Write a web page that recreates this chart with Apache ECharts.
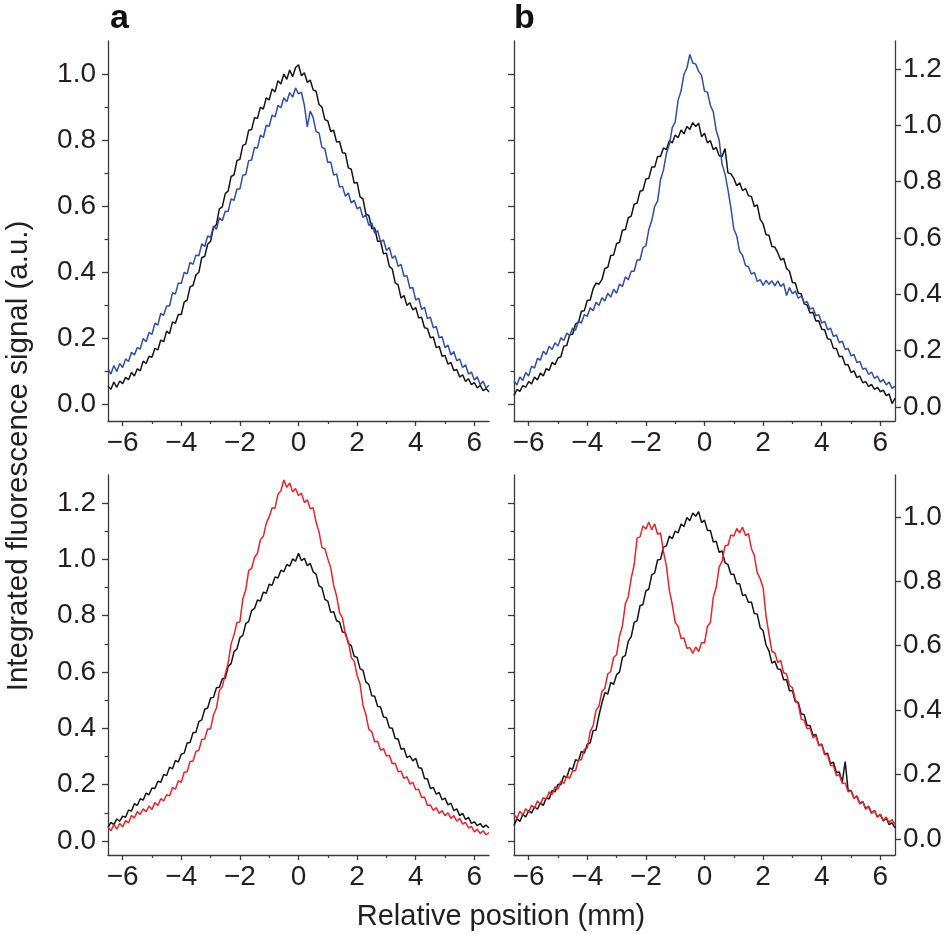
<!DOCTYPE html>
<html>
<head>
<meta charset="utf-8">
<script src="https://cdn.jsdelivr.net/npm/echarts@6.0.0/dist/echarts.min.js"></script>
<style>
  html, body { margin: 0; padding: 0; background: #fff; }
  #main { width: 946px; height: 934px; }
</style>
</head>
<body>
<div id="main"></div>
<script>
// positions along the sample (mm)
const positions = [
  -6.5, -6.4, -6.3, -6.2, -6.1, -6.0, -5.9, -5.8, -5.7, -5.6,
  -5.5, -5.4, -5.3, -5.2, -5.1, -5.0, -4.9, -4.8, -4.7, -4.6,
  -4.5, -4.4, -4.3, -4.2, -4.1, -4.0, -3.9, -3.8, -3.7, -3.6,
  -3.5, -3.4, -3.3, -3.2, -3.1, -3.0, -2.9, -2.8, -2.7, -2.6,
  -2.5, -2.4, -2.3, -2.2, -2.1, -2.0, -1.9, -1.8, -1.7, -1.6,
  -1.5, -1.4, -1.3, -1.2, -1.1, -1.0, -0.9, -0.8, -0.7, -0.6,
  -0.5, -0.4, -0.3, -0.2, -0.1, 0.0, 0.1, 0.2, 0.3, 0.4,
  0.5, 0.6, 0.7, 0.8, 0.9, 1.0, 1.1, 1.2, 1.3, 1.4,
  1.5, 1.6, 1.7, 1.8, 1.9, 2.0, 2.1, 2.2, 2.3, 2.4,
  2.5, 2.6, 2.7, 2.8, 2.9, 3.0, 3.1, 3.2, 3.3, 3.4,
  3.5, 3.6, 3.7, 3.8, 3.9, 4.0, 4.1, 4.2, 4.3, 4.4,
  4.5, 4.6, 4.7, 4.8, 4.9, 5.0, 5.1, 5.2, 5.3, 5.4,
  5.5, 5.6, 5.7, 5.8, 5.9, 6.0, 6.1, 6.2, 6.3, 6.4, 6.5
];

// panel a, top
const aTopBlack = [
  .055, .046, .068, .052, .071, .063, .082, .075, .097, .086,
  .108, .102, .131, .124, .146, .143, .170, .165, .195, .190,
  .222, .214, .250, .246, .272, .272, .310, .316, .356, .360,
  .392, .400, .445, .448, .485, .494, .535, .545, .592, .598,
  .638, .646, .690, .695, .738, .742, .784, .788, .830, .832,
  .868, .866, .900, .894, .928, .922, .955, .946, .980, .970,
  1.000, .984, 1.012, .992, 1.020, 1.028, .995, 1.004, .975, .982,
  .952, .948, .908, .900, .862, .858, .826, .830, .794, .796,
  .762, .760, .716, .712, .670, .672, .628, .622, .576, .572,
  .532, .534, .494, .494, .456, .458, .418, .410, .368, .362,
  .322, .330, .300, .308, .286, .293, .262, .264, .232, .230,
  .202, .204, .172, .176, .146, .148, .122, .127, .103, .106,
  .083, .090, .070, .078, .060, .066, .050, .058, .042, .048, .038
];
const aTopBlue = [
  .108, .092, .118, .100, .124, .112, .138, .130, .158, .150,
  .172, .168, .200, .190, .218, .212, .246, .240, .276, .270,
  .298, .298, .338, .334, .368, .366, .400, .395, .430, .424,
  .452, .450, .486, .478, .510, .506, .540, .530, .565, .556,
  .585, .584, .622, .618, .652, .652, .694, .696, .738, .740,
  .778, .776, .815, .808, .845, .842, .876, .870, .905, .898,
  .928, .916, .944, .930, .958, .940, .945, .905, .840, .888,
  .868, .826, .822, .778, .774, .732, .734, .694, .698, .658,
  .660, .630, .640, .610, .618, .592, .598, .566, .574, .542,
  .550, .518, .526, .492, .498, .466, .475, .442, .450, .418,
  .424, .388, .390, .352, .354, .316, .322, .288, .294, .260,
  .264, .232, .236, .202, .205, .172, .180, .150, .160, .132,
  .138, .112, .120, .092, .098, .074, .084, .060, .070, .050, .058
];

// panel b, top
const bTopBlack = [
  .040, .062, .055, .076, .070, .090, .082, .106, .096, .120,
  .110, .136, .130, .158, .150, .174, .178, .216, .218, .256,
  .258, .295, .300, .340, .342, .378, .380, .420, .440, .436,
  .452, .492, .496, .538, .540, .580, .585, .628, .630, .672,
  .678, .720, .724, .766, .770, .810, .812, .852, .852, .890,
  .890, .920, .914, .946, .938, .966, .956, .984, .970, .996,
  .986, 1.010, .996, 1.008, .960, .972, .938, .946, .914, .922,
  .892, .890, .918, .832, .828, .812, .786, .796, .768, .776,
  .750, .748, .712, .718, .666, .650, .612, .610, .570, .568,
  .548, .522, .528, .492, .482, .442, .440, .404, .402, .366,
  .362, .334, .336, .305, .306, .276, .274, .242, .240, .208,
  .208, .178, .180, .150, .150, .122, .128, .104, .110, .086,
  .090, .072, .080, .062, .070, .054, .060, .040, .046, .012, .030
];
const bTopBlue = [
  .092, .078, .106, .094, .122, .110, .145, .138, .172, .166,
  .198, .186, .216, .204, .228, .216, .246, .236, .262, .254,
  .280, .272, .306, .298, .328, .322, .352, .342, .372, .360,
  .388, .376, .404, .390, .418, .404, .436, .428, .462, .452,
  .482, .482, .522, .522, .566, .572, .630, .662, .712, .732,
  .808, .842, .900, .932, .992, 1.012, 1.090, 1.122, 1.182, 1.204,
  1.252, 1.222, 1.218, 1.192, 1.178, 1.122, 1.118, 1.072, 1.048, .982,
  .948, .862, .828, .772, .708, .632, .608, .552, .538, .502,
  .498, .472, .478, .446, .452, .432, .450, .436, .448, .430,
  .448, .428, .438, .396, .424, .402, .412, .386, .394, .370,
  .374, .348, .352, .324, .328, .298, .304, .274, .280, .250,
  .256, .228, .234, .204, .208, .182, .186, .158, .162, .134,
  .138, .115, .124, .101, .110, .088, .098, .078, .088, .066, .074
];

// panel a, bottom
const aBotBlack = [
  .048, .066, .058, .078, .070, .088, .084, .110, .106, .132,
  .126, .150, .145, .170, .164, .188, .186, .212, .208, .236,
  .232, .262, .256, .286, .280, .308, .312, .348, .350, .384,
  .386, .424, .430, .468, .472, .508, .510, .544, .546, .576,
  .578, .620, .630, .672, .682, .722, .730, .772, .780, .818,
  .826, .856, .852, .884, .880, .912, .908, .938, .934, .962,
  .956, .982, .976, 1.002, .994, 1.022, .996, 1.004, .978, .986,
  .956, .948, .906, .900, .858, .852, .812, .814, .782, .778,
  .742, .740, .702, .694, .656, .652, .612, .606, .564, .556,
  .516, .514, .478, .476, .440, .438, .402, .400, .364, .362,
  .326, .328, .296, .302, .284, .294, .260, .258, .222, .220,
  .186, .190, .166, .172, .146, .152, .128, .134, .108, .114,
  .090, .098, .076, .084, .062, .068, .054, .062, .048, .056, .046
];
const aBotRed = [
  .050, .036, .058, .042, .062, .050, .072, .064, .090, .082,
  .104, .094, .114, .104, .124, .112, .136, .126, .150, .142,
  .164, .160, .190, .184, .214, .208, .244, .246, .282, .284,
  .318, .322, .360, .362, .398, .398, .448, .472, .534, .548,
  .592, .632, .700, .732, .776, .778, .860, .892, .960, .968,
  1.008, 1.022, 1.070, 1.082, 1.128, 1.152, 1.184, 1.182, 1.232, 1.244,
  1.282, 1.256, 1.272, 1.240, 1.252, 1.226, 1.236, 1.202, 1.212, 1.180,
  1.184, 1.132, 1.098, 1.042, 1.038, 1.002, .970, .908, .870, .812,
  .792, .732, .708, .652, .638, .588, .558, .482, .448, .396,
  .388, .352, .354, .322, .328, .302, .304, .274, .276, .246,
  .248, .222, .228, .202, .208, .182, .184, .154, .156, .126,
  .128, .108, .118, .098, .108, .090, .100, .080, .090, .070,
  .080, .060, .066, .046, .052, .032, .042, .026, .036, .022, .030
];

// panel b, bottom
const bBotBlack = [
  .042, .062, .054, .076, .068, .088, .080, .100, .092, .112,
  .104, .128, .124, .150, .146, .170, .168, .196, .190, .220,
  .216, .246, .242, .272, .266, .294, .298, .336, .338, .384,
  .422, .454, .450, .486, .480, .510, .518, .564, .570, .614,
  .628, .672, .678, .724, .728, .770, .776, .820, .826, .866,
  .868, .906, .910, .940, .932, .956, .950, .978, .970, .998,
  .988, 1.012, 1.002, 1.016, .982, .990, .958, .958, .922, .924,
  .890, .894, .858, .852, .822, .822, .792, .792, .756, .758,
  .734, .736, .700, .698, .656, .646, .602, .584, .546, .552,
  .528, .526, .494, .494, .460, .460, .426, .424, .388, .386,
  .352, .352, .322, .324, .292, .294, .264, .266, .234, .238,
  .206, .208, .176, .240, .150, .150, .126, .132, .110, .116,
  .094, .100, .080, .088, .068, .076, .056, .064, .044, .050, .034
];
const bBotRed = [
  .076, .064, .086, .074, .094, .082, .104, .096, .118, .108,
  .128, .122, .146, .138, .162, .154, .180, .172, .196, .188,
  .212, .212, .246, .246, .278, .282, .334, .352, .400, .412,
  .458, .468, .512, .520, .564, .572, .630, .662, .730, .752,
  .810, .852, .934, .938, .972, .962, .984, .960, .978, .946,
  .950, .892, .848, .772, .728, .672, .660, .622, .624, .592,
  .594, .576, .596, .582, .610, .608, .660, .672, .750, .782,
  .844, .862, .910, .912, .944, .940, .964, .950, .968, .942,
  .948, .902, .880, .826, .808, .780, .692, .636, .582, .578,
  .548, .554, .516, .512, .476, .470, .432, .418, .372, .368,
  .342, .344, .314, .320, .290, .294, .262, .262, .228, .228,
  .196, .200, .172, .174, .146, .150, .126, .134, .108, .116,
  .092, .102, .080, .088, .068, .076, .058, .068, .050, .060, .046
];

// tick values
const xMajorTicks = [-6, -4, -2, 0, 2, 4, 6];
const xMinorTicks = [-5, -3, -1, 1, 3, 5];
const yTicksTo10 = [0, 0.2, 0.4, 0.6, 0.8, 1.0];
const yMinorTo11 = [0.1, 0.3, 0.5, 0.7, 0.9];
const yTicksTo12 = [0, 0.2, 0.4, 0.6, 0.8, 1.0, 1.2];
const yMinorTo13 = [0.1, 0.3, 0.5, 0.7, 0.9, 1.1];

const FONT = '"Liberation Sans", Arial, Helvetica, sans-serif';
const AXIS = '#3a3a3a';
const TEXT = '#231f20';

const chart = echarts.init(document.getElementById('main'), null, { width: 946, height: 934 });

const grids = [
  { left: 108, top: 41, width: 381, height: 380 },
  { left: 514, top: 41, width: 381, height: 380 },
  { left: 108, top: 475, width: 381, height: 380 },
  { left: 514, top: 475, width: 381, height: 380 }
].map(g => Object.assign({ containLabel: false, outerBoundsMode: 'none' }, g));

const xAxis = [];
const yAxis = [];

function fmtX(v) {
  return v < 0 ? '\u2212' + Math.abs(v) : String(v);
}

function addX(g) {
  xAxis.push({
    type: 'value', gridIndex: g, position: 'bottom', min: -6.5, max: 6.5,
    axisLine: { show: true, onZero: false, lineStyle: { color: AXIS, width: 1.3 } },
    axisTick: { show: true, customValues: xMajorTicks, length: 5, lineStyle: { color: AXIS, width: 1.3 } },
    axisLabel: { customValues: xMajorTicks, formatter: fmtX, fontSize: 28, color: TEXT, fontFamily: FONT, margin: 8 },
    splitLine: { show: false }
  });
  xAxis.push({
    type: 'value', gridIndex: g, position: 'bottom', min: -6.5, max: 6.5,
    axisLine: { show: false, onZero: false },
    axisTick: { show: true, customValues: xMinorTicks, length: 3, lineStyle: { color: AXIS, width: 1.2 } },
    axisLabel: { show: false },
    splitLine: { show: false }
  });
  return xAxis.length - 2;
}

function addY(g, side, max, major, minor, labels) {
  yAxis.push({
    type: 'value', gridIndex: g, position: side, min: -0.05, max: max,
    axisLine: { show: true, onZero: false, lineStyle: { color: AXIS, width: 1.3 } },
    axisTick: { show: true, customValues: major, length: 6, lineStyle: { color: AXIS, width: 1.3 } },
    axisLabel: {
      show: labels, customValues: major, formatter: v => Number(v).toFixed(1),
      fontSize: 28, color: TEXT, fontFamily: FONT, margin: side === 'left' ? 12 : 8
    },
    splitLine: { show: false }
  });
  const idx = yAxis.length - 1;
  if (minor) {
    yAxis.push({
      type: 'value', gridIndex: g, position: side, min: -0.05, max: max,
      axisLine: { show: false, onZero: false },
      axisTick: { show: true, customValues: minor, length: 3.5, lineStyle: { color: AXIS, width: 1.2 } },
      axisLabel: { show: false },
      splitLine: { show: false }
    });
  }
  return idx;
}

// panel a top
const xa1 = addX(0);
const ya1 = addY(0, 'left', 1.1, yTicksTo10, yMinorTo11, true);
// panel b top: left ticks mirror panel a, own scale on the right
const xb1 = addX(1);
addY(1, 'left', 1.1, yTicksTo10, yMinorTo11, false);
const yb1 = addY(1, 'right', 1.3, yTicksTo12, null, true);
// panel a bottom
const xa2 = addX(2);
const ya2 = addY(2, 'left', 1.3, yTicksTo12, yMinorTo13, true);
// panel b bottom
const xb2 = addX(3);
addY(3, 'left', 1.3, yTicksTo12, yMinorTo13, false);
const yb2 = addY(3, 'right', 1.13, yTicksTo10, null, true);

function line(values, color, xi, yi) {
  return {
    type: 'line',
    xAxisIndex: xi,
    yAxisIndex: yi,
    data: positions.map((p, i) => [p, values[i]]),
    showSymbol: false,
    symbol: 'none',
    lineStyle: { color: color, width: 1.5 },
    itemStyle: { color: color },
    clip: true
  };
}

const BLACK = '#141414';
const BLUE = '#2f4ea6';
const RED = '#e8232b';

const option = {
  animation: false,
  backgroundColor: '#ffffff',
  grid: grids,
  xAxis: xAxis,
  yAxis: yAxis,
  series: [
    line(aTopBlack, BLACK, xa1, ya1),
    line(aTopBlue, BLUE, xa1, ya1),
    line(bTopBlack, BLACK, xb1, yb1),
    line(bTopBlue, BLUE, xb1, yb1),
    line(aBotBlack, BLACK, xa2, ya2),
    line(aBotRed, RED, xa2, ya2),
    line(bBotBlack, BLACK, xb2, yb2),
    line(bBotRed, RED, xb2, yb2)
  ],
  graphic: [
    {
      type: 'text', left: 110, top: 2,
      style: { text: 'a', font: 'bold 34px ' + FONT, fill: '#111' }
    },
    {
      type: 'text', left: 514, top: 2,
      style: { text: 'b', font: 'bold 34px ' + FONT, fill: '#111' }
    },
    {
      type: 'text', x: 19, y: 456, rotation: Math.PI / 2,
      style: {
        text: 'Integrated fluorescence signal (a.u.)', font: '29.5px ' + FONT, fill: TEXT,
        align: 'center', verticalAlign: 'middle', textAlign: 'center', textVerticalAlign: 'middle'
      }
    },
    {
      type: 'text', x: 501, y: 917,
      style: {
        text: 'Relative position (mm)', font: '29px ' + FONT, fill: TEXT,
        align: 'center', verticalAlign: 'middle', textAlign: 'center', textVerticalAlign: 'middle'
      }
    }
  ]
};

chart.setOption(option);
</script>
</body>
</html>
